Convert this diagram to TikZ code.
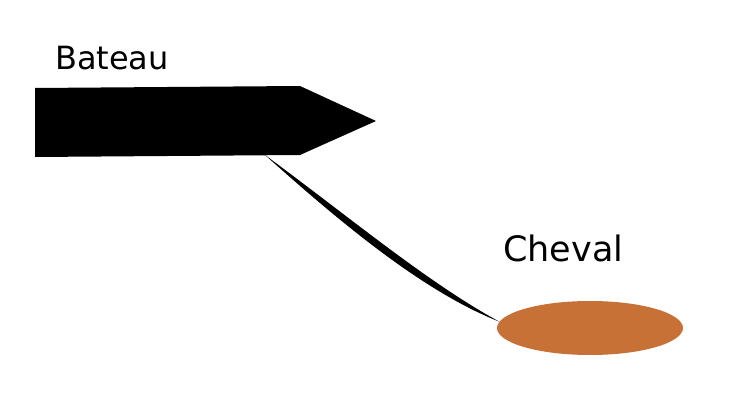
\documentclass[tikz,border=0pt]{standalone}
\usepackage{fontspec}
\setmainfont{DejaVu Sans}
\usetikzlibrary{shapes.geometric}
\definecolor{horse}{HTML}{C87137}
\begin{document}
\begin{tikzpicture}[x=1pt,y=-1pt,
  lbl/.style={anchor=base west,inner sep=0pt,text=black},
  hull/.style={fill=black,draw=none}]
\useasboundingbox (0,0) rectangle (737,414);
% boat
\coordinate (b1) at (35,88);
\coordinate (b2) at (300,86);
\coordinate (b3) at (300,155);
\coordinate (b4) at (35,157);
\coordinate (tip) at (376,121);
\fill[hull] (b1) -- (b2) -- (b3) -- (b4) -- cycle;
\fill[hull] (b2) -- (tip) -- (b3) -- cycle;
\node[lbl,font=\fontsize{32}{36}\selectfont] (bateau) at (55,70) {Bateau};
% horse
\node[ellipse,fill=horse,draw=none,minimum width=186pt,minimum height=54pt,inner sep=0pt] (cheval) at (590,328) {};
\node[lbl,font=\fontsize{35}{40}\selectfont] (chevallbl) at (503,262) {Cheval};
% rope
\coordinate (r0) at (265,155);
\coordinate (r1) at (cheval.176);
\fill[black] (r0) .. controls (342,224) and (424,292) .. (r1)
  .. controls (428,283) and (348,216) .. (r0) -- cycle;
\end{tikzpicture}
\end{document}
